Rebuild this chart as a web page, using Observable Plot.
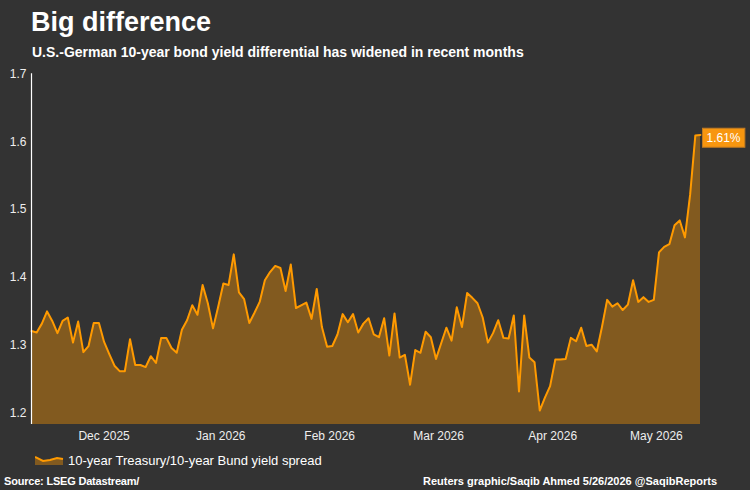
<!DOCTYPE html>
<html>
<head>
<meta charset="utf-8">
<script src="https://cdn.jsdelivr.net/npm/d3@7"></script>
<script src="https://cdn.jsdelivr.net/npm/@observablehq/plot@0.6"></script>
<style>
  html, body { margin: 0; padding: 0; background: #333333; }
  #chart { position: relative; width: 750px; height: 490px; background: #333333; color: #fff;
           font-family: "Liberation Sans", Arial, sans-serif; overflow: hidden; }
  #chart .txt { position: absolute; line-height: 1; white-space: nowrap; }
  .title { left: 31px; top: 9px; font-size: 27px; font-weight: bold; }
  .subtitle { left: 32px; top: 45px; font-size: 14px; font-weight: bold; }
  #plot { position: absolute; left: 0; top: 64px; }
  .legend { left: 35px; top: 454px; font-size: 13px; display: flex; align-items: center; }
  .legend svg { margin-right: 4px; }
  .source { left: 4px; top: 476px; font-size: 11px; font-weight: bold; letter-spacing: -0.2px; }
  .credit { right: 33px; top: 476px; font-size: 11px; font-weight: bold; }
</style>
</head>
<body>
<div id="chart">
  <div class="txt title">Big difference</div>
  <div class="txt subtitle">U.S.-German 10-year bond yield differential has widened in recent months</div>
  <div id="plot"></div>
  <div class="txt legend">
    <svg width="29" height="9" viewBox="0 0 29 9">
      <path d="M0,1 L8,5 L15,4 L22,2 L28,3 L28,9 L0,9 Z" fill="#825a1f"></path>
      <polyline points="0,1 8,5 15,4 22,2 28,3" fill="none" stroke="#ff9a00" stroke-width="2"></polyline>
    </svg>
    <span>10-year Treasury/10-year Bund yield spread</span>
  </div>
  <div class="txt source">Source: LSEG Datastream/</div>
  <div class="txt credit">Reuters graphic/Saqib Ahmed 5/26/2026 @SaqibReports</div>
</div>
<script>
// Daily (trading-day) spread between 10-year Treasury and 10-year Bund yields, in percentage points
const startDate = "2025-11-26";
const endDate = "2026-05-26";
const spread = [
  1.321, 1.319, 1.332, 1.350, 1.336, 1.318, 1.336, 1.341, 1.304, 1.335,
  1.290, 1.299, 1.333, 1.333, 1.305, 1.287, 1.270, 1.262, 1.262, 1.309,
  1.271, 1.271, 1.268, 1.284, 1.274, 1.311, 1.311, 1.296, 1.289, 1.323,
  1.337, 1.359, 1.345, 1.389, 1.362, 1.325, 1.357, 1.391, 1.389, 1.434,
  1.378, 1.368, 1.333, 1.348, 1.364, 1.396, 1.408, 1.417, 1.414, 1.380,
  1.419, 1.355, 1.359, 1.363, 1.339, 1.383, 1.327, 1.298, 1.299, 1.316,
  1.346, 1.334, 1.346, 1.319, 1.332, 1.340, 1.316, 1.312, 1.340, 1.285,
  1.347, 1.282, 1.286, 1.242, 1.293, 1.289, 1.320, 1.312, 1.280, 1.303,
  1.326, 1.307, 1.356, 1.327, 1.377, 1.370, 1.362, 1.341, 1.304, 1.318,
  1.337, 1.311, 1.310, 1.344, 1.232, 1.344, 1.282, 1.275, 1.204, 1.223,
  1.240, 1.279, 1.279, 1.280, 1.311, 1.306, 1.326, 1.299, 1.301, 1.291,
  1.327, 1.367, 1.357, 1.362, 1.352, 1.360, 1.396, 1.364, 1.371, 1.364,
  1.367, 1.437, 1.445, 1.449, 1.477, 1.484, 1.459, 1.522, 1.609, 1.610
];
const monthLabels = ["Dec 2025", "Jan 2026", "Feb 2026", "Mar 2026", "Apr 2026", "May 2026"];
const yTicks = [1.2, 1.3, 1.4, 1.5, 1.6, 1.7];
const yDomain = [1.1834, 1.7];

// Weekday calendar for the series
const days = d3.utcDay
  .range(new Date(startDate), d3.utcDay.offset(new Date(endDate), 1))
  .filter(d => d.getUTCDay() % 6 !== 0);
const data = spread.map((v, i) => ({ i, date: days[i], v }));

// Month labels sit at the middle of each month's run of trading days
const monthOf = d3.utcFormat("%b %Y");
const centers = monthLabels.map(m => d3.mean(data.filter(d => monthOf(d.date) === m), d => d.i));
const labelAt = new Map(centers.map((c, k) => [c, monthLabels[k]]));

const last = data[data.length - 1];

const chart = Plot.plot({
  width: 750,
  height: 384,
  marginLeft: 31,
  marginRight: 50,
  marginTop: 9.3,
  marginBottom: 24,
  style: { background: "transparent", color: "#eeeeee", fontFamily: "'Liberation Sans', Arial, sans-serif", fontSize: "12px" },
  x: { domain: [0, spread.length - 1], axis: null },
  y: { domain: yDomain, axis: null },
  marks: [
    Plot.areaY(data, { x: "i", y: "v", fill: "#825a1f", clip: true }),
    Plot.lineY(data, { x: "i", y: "v", stroke: "#ff9a00", strokeWidth: 2, strokeLinejoin: "round" }),
    Plot.ruleX([0], { stroke: "#ffffff", strokeWidth: 1.2 }),
    Plot.axisY(yTicks, { label: null, tickSize: 0, tickPadding: 5, tickFormat: d3.format(".1f"), fill: "#eeeeee", fontSize: 12 }),
    Plot.axisX(centers, { label: null, tickSize: 0, tickPadding: 7, tickFormat: d => labelAt.get(d), fill: "#eeeeee", fontSize: 12 }),
    Plot.text([last], {
      x: "i", y: "v",
      text: d => d3.format(".2f")(d.v) + "%",
      textAnchor: "start", dx: 6, dy: 3,
      fill: "#ffffff", fontSize: 12,
      className: "endlabel"
    })
  ]
});

document.getElementById("plot").appendChild(chart);

// Orange tag behind the latest-value label
chart.querySelectorAll("g.endlabel text").forEach(t => {
  const b = t.getBBox();
  const r = document.createElementNS("http://www.w3.org/2000/svg", "rect");
  r.setAttribute("x", b.x - 4);
  r.setAttribute("y", b.y + b.height / 2 - 9.5);
  r.setAttribute("width", b.width + 8);
  r.setAttribute("height", 19);
  r.setAttribute("fill", "#f7960f");
  r.setAttribute("stroke", "#c07a22");
  r.setAttribute("stroke-width", 1);
  if (t.getAttribute("transform")) r.setAttribute("transform", t.getAttribute("transform"));
  t.parentNode.insertBefore(r, t);
});
</script>
</body>
</html>
